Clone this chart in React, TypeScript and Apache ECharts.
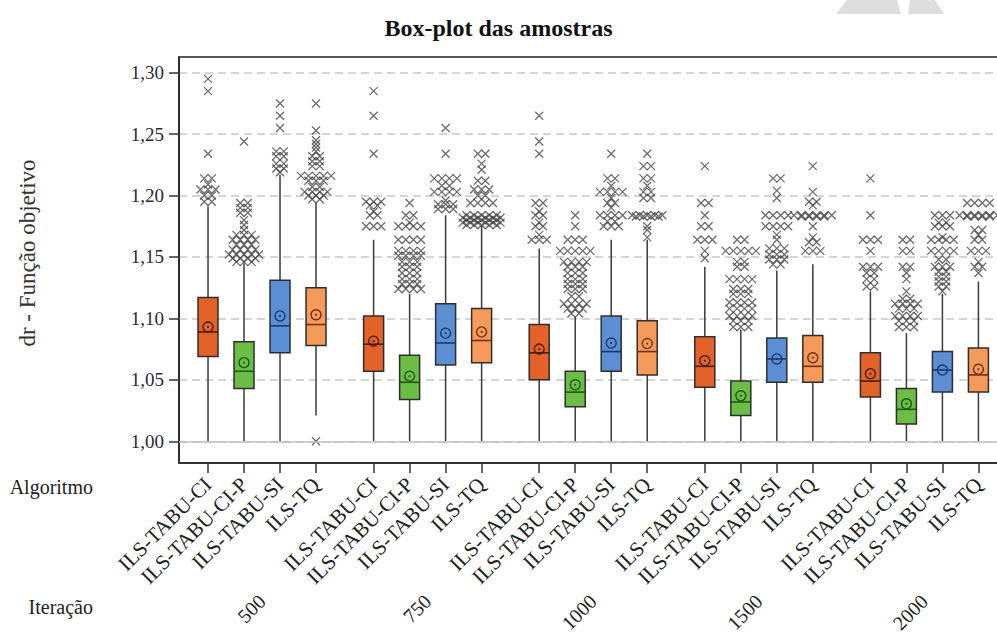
import React, { useEffect, useRef } from "react";
import * as echarts from "echarts";

// ---------- data ----------
const iterations = ["500", "750", "1000", "1500", "2000"];
const algorithms = ["ILS-TABU-CI", "ILS-TABU-CI-P", "ILS-TABU-SI", "ILS-TQ"];
const yTicks = [1.0, 1.05, 1.1, 1.15, 1.2, 1.25, 1.3];

// per iteration: [min, Q1, median, Q3, max (whisker), mean]
const statsCI = [
  [1.0, 1.069, 1.089, 1.117, 1.191, 1.093],
  [1.0, 1.057, 1.079, 1.102, 1.164, 1.0815],
  [1.0, 1.05, 1.072, 1.095, 1.157, 1.075],
  [1.0, 1.044, 1.061, 1.085, 1.142, 1.0656],
  [1.0, 1.036, 1.049, 1.072, 1.122, 1.055],
];
const statsCIP = [
  [1.0, 1.043, 1.057, 1.081, 1.145, 1.064],
  [1.0, 1.034, 1.048, 1.07, 1.12, 1.053],
  [1.0, 1.028, 1.04, 1.057, 1.101, 1.046],
  [1.0, 1.021, 1.032, 1.049, 1.091, 1.037],
  [1.0, 1.014, 1.026, 1.043, 1.088, 1.0305],
];
const statsSI = [
  [1.0, 1.072, 1.094, 1.131, 1.217, 1.102],
  [1.0, 1.062, 1.08, 1.112, 1.184, 1.088],
  [1.0, 1.057, 1.073, 1.102, 1.164, 1.08],
  [1.0, 1.048, 1.067, 1.084, 1.139, 1.067],
  [1.0, 1.04, 1.058, 1.073, 1.12, 1.058],
];
const statsTQ = [
  [1.021, 1.078, 1.095, 1.125, 1.194, 1.103],
  [1.0, 1.064, 1.082, 1.108, 1.175, 1.089],
  [1.0, 1.054, 1.073, 1.098, 1.164, 1.0795],
  [1.0, 1.048, 1.061, 1.086, 1.144, 1.068],
  [1.0, 1.04, 1.054, 1.076, 1.13, 1.0586],
];

// outliers per iteration: [value, how many marks side by side]
const outCI = [
  [[1.295, 1], [1.285, 1], [1.234, 1], [1.214, 2], [1.209, 1], [1.205, 3], [1.2, 2], [1.195, 2]],
  [[1.285, 1], [1.265, 1], [1.234, 1], [1.195, 3], [1.192, 2], [1.187, 1], [1.184, 2], [1.175, 3]],
  [[1.265, 1], [1.244, 1], [1.234, 1], [1.194, 2], [1.187, 1], [1.184, 2], [1.178, 1], [1.175, 2], [1.168, 1], [1.164, 3]],
  [[1.224, 1], [1.194, 2], [1.184, 1], [1.175, 2], [1.164, 3], [1.155, 1], [1.149, 1]],
  [[1.214, 1], [1.184, 1], [1.164, 3], [1.155, 1], [1.142, 3], [1.137, 2], [1.132, 2], [1.126, 2]],
];
const outCIP = [
  [[1.244, 1], [1.194, 2], [1.19, 2], [1.186, 2], [1.18, 1], [1.176, 1], [1.172, 1], [1.168, 3], [1.164, 4], [1.16, 3], [1.156, 4], [1.152, 5], [1.149, 4], [1.146, 3]],
  [[1.194, 1], [1.184, 2], [1.178, 1], [1.175, 4], [1.164, 4], [1.155, 4], [1.151, 4], [1.146, 3], [1.142, 3], [1.137, 3], [1.132, 3], [1.128, 3], [1.124, 4]],
  [[1.184, 1], [1.175, 1], [1.164, 3], [1.155, 5], [1.146, 4], [1.142, 3], [1.137, 3], [1.132, 3], [1.128, 3], [1.124, 3], [1.118, 2], [1.112, 4], [1.108, 3], [1.104, 2]],
  [[1.164, 2], [1.155, 5], [1.146, 2], [1.142, 2], [1.132, 4], [1.124, 3], [1.12, 3], [1.113, 4], [1.108, 4], [1.102, 4], [1.098, 3], [1.093, 3]],
  [[1.164, 2], [1.155, 2], [1.142, 2], [1.137, 1], [1.132, 1], [1.122, 1], [1.116, 2], [1.112, 4], [1.108, 3], [1.102, 4], [1.098, 3], [1.093, 3]],
];
const outSI = [
  [[1.275, 1], [1.265, 1], [1.255, 1], [1.236, 2], [1.232, 2], [1.226, 2], [1.222, 2], [1.219, 1]],
  [[1.255, 1], [1.234, 1], [1.214, 4], [1.208, 2], [1.203, 4], [1.196, 1], [1.193, 3], [1.189, 3]],
  [[1.234, 1], [1.214, 2], [1.208, 1], [1.203, 4], [1.198, 1], [1.194, 2], [1.19, 1], [1.184, 4], [1.179, 2], [1.175, 3]],
  [[1.214, 2], [1.204, 1], [1.198, 1], [1.184, 4], [1.175, 4], [1.168, 1], [1.164, 1], [1.157, 3], [1.152, 3], [1.148, 3], [1.144, 2]],
  [[1.184, 3], [1.178, 2], [1.175, 3], [1.166, 1], [1.164, 4], [1.155, 4], [1.148, 2], [1.142, 3], [1.138, 2], [1.134, 2], [1.13, 2], [1.126, 2], [1.122, 1]],
];
const outTQ = [
  [[1.275, 1], [1.253, 1], [1.245, 1], [1.242, 1], [1.239, 1], [1.236, 1], [1.232, 2], [1.228, 2], [1.224, 2], [1.216, 5], [1.212, 3], [1.207, 2], [1.203, 4], [1.2, 3], [1.197, 2], [1.0, 1]],
  [[1.234, 2], [1.226, 1], [1.221, 1], [1.212, 2], [1.205, 3], [1.2, 2], [1.194, 4], [1.184, 5], [1.182, 6], [1.18, 5], [1.178, 6], [1.176, 5]],
  [[1.234, 1], [1.224, 2], [1.214, 2], [1.208, 1], [1.203, 2], [1.198, 2], [1.184, 5], [1.183, 4], [1.175, 1], [1.172, 1], [1.166, 1]],
  [[1.224, 1], [1.203, 1], [1.195, 2], [1.192, 1], [1.184, 6], [1.183, 4], [1.175, 1], [1.166, 1], [1.162, 2], [1.155, 3]],
  [[1.194, 4], [1.184, 6], [1.183, 4], [1.172, 2], [1.168, 1], [1.164, 2], [1.155, 3], [1.146, 1], [1.142, 2], [1.137, 1]],
];

// ---------- styling / layout ----------
const boxFill = ["#E3622A", "#6BBD45", "#5B8ED3", "#F69A5C"];
const boxDark = ["#4a1e08", "#1f5a12", "#173a6e", "#6e3210"];
const allStats = [statsCI, statsCIP, statsSI, statsTQ];
const allOut = [outCI, outCIP, outSI, outTQ];

const GROUP_STEP = 4.6;
const GRID_LEFT = 179;
const GRID_RIGHT = -20;
const UNIT_PX = 36;
const X_MIN = -0.806;
const X_MAX = X_MIN + (997 - GRID_LEFT - GRID_RIGHT) / UNIT_PX;
const SPREAD = 0.21;
const FONT = "'Liberation Serif', 'Times New Roman', serif";

const posOf = (g: number, a: number) => g * GROUP_STEP + a;

export default function App() {
  const ref = useRef<HTMLDivElement>(null);

  useEffect(() => {
    if (!ref.current) return;
    const chart = echarts.init(ref.current, undefined, { renderer: "svg" });

    const tickPositions: number[] = [];
    const labelMap: Record<string, string> = {};
    iterations.forEach((_, g) =>
      algorithms.forEach((name, a) => {
        const p = posOf(g, a);
        tickPositions.push(p);
        labelMap[p.toFixed(3)] = name;
      })
    );
    const groupCenters: number[] = [];
    const iterMap: Record<string, string> = {};
    iterations.forEach((it, g) => {
      const c = (posOf(g, 0) + posOf(g, 3)) / 2;
      groupCenters.push(c);
      iterMap[c.toFixed(3)] = it;
    });

    const boxSeries = algorithms.map((name, a) => ({
      type: "custom",
      name,
      xAxisIndex: 0,
      yAxisIndex: 0,
      encode: { x: 0, y: [1, 2, 3, 4, 5, 6] },
      data: allStats[a].map((s, g) => [posOf(g, a), ...s]),
      z: 3,
      renderItem: (_params: any, api: any) => {
        const x = api.value(0);
        const mn = api.coord([x, api.value(1)]);
        const q1 = api.coord([x, api.value(2)]);
        const md = api.coord([x, api.value(3)]);
        const q3 = api.coord([x, api.value(4)]);
        const mx = api.coord([x, api.value(5)]);
        const mean = api.coord([x, api.value(6)]);
        const cx = mn[0];
        const hw = 10;
        const wh = { stroke: "#3a3a3a", lineWidth: 1.5 };
        return {
          type: "group",
          children: [
            { type: "line", shape: { x1: cx, y1: mn[1], x2: cx, y2: q1[1] }, style: wh },
            { type: "line", shape: { x1: cx, y1: q3[1], x2: cx, y2: mx[1] }, style: wh },
            {
              type: "rect",
              shape: { x: cx - hw, y: q3[1], width: hw * 2, height: q1[1] - q3[1] },
              style: { fill: boxFill[a], stroke: "#2e2e2e", lineWidth: 1.5 },
            },
            {
              type: "line",
              shape: { x1: cx - hw, y1: md[1], x2: cx + hw, y2: md[1] },
              style: { stroke: boxDark[a], lineWidth: 1.6 },
            },
            {
              type: "circle",
              shape: { cx, cy: mean[1], r: 5 },
              style: { fill: "none", stroke: boxDark[a], lineWidth: 1.4 },
            },
            {
              type: "circle",
              shape: { cx, cy: mean[1], r: 1.1 },
              style: { fill: boxDark[a] },
            },
          ],
        };
      },
    }));

    const outlierData: number[][] = [];
    allOut.forEach((perIter, a) =>
      perIter.forEach((list, g) =>
        list.forEach(([v, n]) => {
          for (let k = 0; k < n; k++) {
            outlierData.push([posOf(g, a) + (k - (n - 1) / 2) * SPREAD, v]);
          }
        })
      )
    );

    const option: any = {
      animation: false,
      backgroundColor: "#ffffff",
      title: {
        text: "Box-plot das amostras",
        left: "center",
        top: 11,
        textStyle: { fontFamily: FONT, fontSize: 24, fontWeight: "bold", color: "#111" },
      },
      grid: {
        left: GRID_LEFT,
        right: GRID_RIGHT,
        top: 57,
        bottom: 176,
        containLabel: false,
        outerBoundsMode: "none",
        show: true,
        borderColor: "#555",
        borderWidth: 2,
        backgroundColor: "transparent",
      },
      xAxis: [
        {
          type: "value",
          min: X_MIN,
          max: X_MAX,
          position: "bottom",
          axisLine: { show: true, onZero: false, lineStyle: { color: "#333", width: 2 } },
          axisTick: {
            show: true,
            customValues: tickPositions,
            length: 10,
            lineStyle: { color: "#333", width: 1.5 },
          },
          axisLabel: {
            customValues: tickPositions,
            formatter: (v: number) => labelMap[v.toFixed(3)] ?? "",
            rotate: 45,
            margin: 18,
            fontFamily: FONT,
            fontSize: 21,
            color: "#222",
          },
          splitLine: { show: false },
        },
        {
          type: "value",
          min: X_MIN,
          max: X_MAX,
          position: "bottom",
          axisLine: { show: false, onZero: false },
          axisTick: { show: false },
          axisLabel: {
            customValues: groupCenters,
            formatter: (v: number) => iterMap[v.toFixed(3)] ?? "",
            rotate: 45,
            margin: 135,
            fontFamily: FONT,
            fontSize: 20,
            color: "#222",
          },
          splitLine: { show: false },
        },
      ],
      yAxis: {
        type: "value",
        min: 0.9823,
        max: 1.3128,
        axisLine: { show: true, onZero: false, lineStyle: { color: "#222", width: 1.5 } },
        axisTick: {
          show: true,
          customValues: yTicks,
          length: 10,
          lineStyle: { color: "#333", width: 1.5 },
        },
        axisLabel: {
          customValues: yTicks,
          formatter: (v: number) => v.toFixed(2).replace(".", ","),
          margin: 15,
          fontFamily: FONT,
          fontSize: 19,
          color: "#2a2a3a",
        },
        splitLine: {
          show: true,
          lineStyle: { color: "#c8c8c8", width: 1.5, type: [8, 5] },
        },
      },
      graphic: [
        {
          type: "text",
          x: 27,
          y: 253,
          rotation: Math.PI / 2,
          style: {
            text: "dr - Função objetivo",
            fontFamily: FONT,
            fontSize: 23,
            fill: "#333",
            align: "center",
            verticalAlign: "middle",
          },
        },
        {
          type: "text",
          x: 93,
          y: 487,
          style: {
            text: "Algoritmo",
            fontFamily: FONT,
            fontSize: 20,
            fill: "#222",
            align: "right",
            verticalAlign: "middle",
          },
        },
        {
          type: "text",
          x: 93,
          y: 607,
          style: {
            text: "Iteração",
            fontFamily: FONT,
            fontSize: 20,
            fill: "#222",
            align: "right",
            verticalAlign: "middle",
          },
        },
        {
          type: "polygon",
          shape: { points: [[847, 0], [897, 0], [901, 14], [836, 14]] },
          style: { fill: "#dedede" },
        },
        {
          type: "polygon",
          shape: { points: [[910, 0], [935, 0], [944, 14], [908, 14]] },
          style: { fill: "#dedede" },
        },
      ],
      series: [
        {
          type: "scatter",
          name: "outliers",
          xAxisIndex: 0,
          yAxisIndex: 0,
          data: outlierData,
          symbol: "path://M0,0L10,10M10,0L0,10",
          symbolSize: 8,
          itemStyle: { color: "rgba(0,0,0,0)", borderColor: "#474747", borderWidth: 1.3 },
          z: 4,
          markLine: {
            silent: true,
            symbol: "none",
            label: { show: false },
            lineStyle: { color: "#c0c0c0", type: "solid", width: 1.5 },
            data: [{ yAxis: 1.0 }],
          },
        },
        ...boxSeries,
      ],
    };

    chart.setOption(option);
    return () => chart.dispose();
  }, []);

  return (
    <div
      ref={ref}
      style={{ position: "fixed", left: 0, top: 0, width: 997, height: 639, background: "#fff" }}
    />
  );
}
